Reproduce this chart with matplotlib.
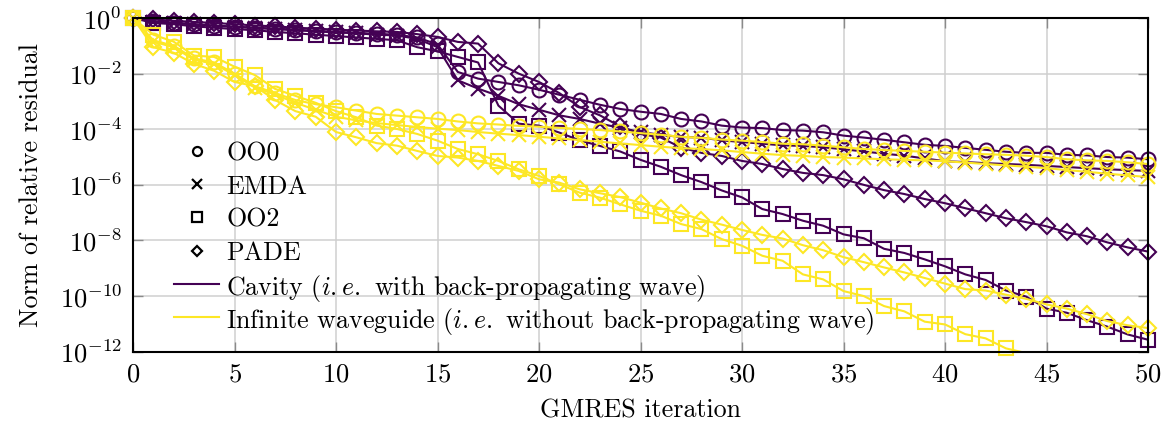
import numpy as np
import matplotlib
matplotlib.use("Agg")
import matplotlib.pyplot as plt

FS = 18.7
plt.rcParams["font.family"] = "serif"
plt.rcParams["font.serif"] = ["cmr10"]
plt.rcParams["mathtext.fontset"] = "cm"
plt.rcParams["axes.formatter.use_mathtext"] = True
plt.rcParams["font.size"] = FS

# GMRES iterations
iterations = list(range(51))

# log10 of the relative residual norm, cavity (with back-propagating wave)
cav_oo0 = [0, -0.12, -0.17, -0.22, -0.27, -0.31, -0.35, -0.38, -0.42, -0.46,
           -0.50, -0.53, -0.57, -0.60, -0.70, -0.95, -1.94, -2.18, -2.30, -2.42,
           -2.58, -2.76, -2.94, -3.12, -3.27, -3.37, -3.45, -3.63, -3.72, -3.87,
           -3.94, -3.96, -4.03, -4.05, -4.11, -4.23, -4.30, -4.38, -4.47, -4.56,
           -4.60, -4.67, -4.74, -4.81, -4.85, -4.85, -4.92, -4.94, -5.00, -5.02,
           -5.08]
cav_emda = [0, -0.13, -0.18, -0.23, -0.28, -0.32, -0.36, -0.40, -0.44, -0.48,
            -0.52, -0.55, -0.60, -0.63, -0.75, -1.05, -2.24, -2.54, -2.80, -3.10,
            -3.30, -3.50, -3.63, -3.80, -3.95, -4.10, -4.20, -4.28, -4.30, -4.40,
            -4.46, -4.52, -4.58, -4.60, -4.65, -4.72, -4.80, -4.88, -4.95, -5.05,
            -5.15, -5.18, -5.22, -5.25, -5.28, -5.32, -5.36, -5.40, -5.44, -5.47,
            -5.50]
cav_oo2 = [0, -0.18, -0.22, -0.30, -0.35, -0.40, -0.44, -0.50, -0.55, -0.60,
           -0.65, -0.70, -0.75, -0.80, -1.05, -1.20, -1.40, -1.60, -3.15, -3.80,
           -3.87, -4.12, -4.40, -4.60, -4.80, -5.10, -5.35, -5.65, -5.90, -6.20,
           -6.45, -6.87, -7.05, -7.29, -7.47, -7.78, -7.92, -8.30, -8.45, -8.68,
           -8.93, -9.22, -9.42, -9.80, -10.02, -10.45, -10.60, -10.87, -11.10,
           -11.38, -11.57]
cav_pade = [0, -0.05, -0.10, -0.14, -0.18, -0.22, -0.27, -0.30, -0.35, -0.38,
            -0.42, -0.45, -0.48, -0.50, -0.58, -0.68, -0.86, -0.92, -1.63, -2.00,
            -2.30, -2.70, -3.20, -3.50, -3.90, -4.17, -4.30, -4.66, -4.85, -4.96,
            -5.14, -5.25, -5.43, -5.57, -5.65, -5.80, -6.00, -6.19, -6.33, -6.51,
            -6.66, -6.84, -7.02, -7.20, -7.34, -7.49, -7.71, -7.85, -8.07, -8.25,
            -8.40]

# log10 of the relative residual norm, infinite waveguide
inf_oo0 = [0, -0.80, -1.00, -1.45, -1.60, -2.00, -2.45, -2.70, -2.95, -3.10,
           -3.21, -3.33, -3.45, -3.51, -3.57, -3.63, -3.72, -3.79, -3.83, -3.88,
           -3.91, -3.95, -3.99, -4.03, -4.08, -4.14, -4.20, -4.27, -4.31, -4.37,
           -4.41, -4.46, -4.52, -4.54, -4.59, -4.65, -4.71, -4.75, -4.78, -4.81,
           -4.84, -4.87, -4.90, -4.92, -4.95, -5.00, -5.08, -5.12, -5.14, -5.19,
           -5.25]
inf_emda = [0, -0.85, -1.05, -1.50, -1.65, -2.05, -2.50, -2.75, -3.05, -3.30,
            -3.55, -3.68, -3.78, -3.85, -3.92, -3.98, -4.03, -4.10, -4.16, -4.21,
            -4.27, -4.33, -4.39, -4.45, -4.51, -4.57, -4.63, -4.68, -4.71, -4.76,
            -4.82, -4.88, -4.93, -4.96, -5.00, -5.02, -5.05, -5.08, -5.10, -5.12,
            -5.15, -5.20, -5.25, -5.30, -5.35, -5.40, -5.47, -5.53, -5.60, -5.66,
            -5.72]
inf_oo2 = [0, -0.60, -0.85, -1.35, -1.40, -1.75, -2.05, -2.55, -2.80, -3.05,
           -3.35, -3.57, -3.87, -3.99, -4.17, -4.41, -4.71, -4.90, -5.14, -5.44,
           -5.68, -5.98, -6.28, -6.46, -6.70, -6.93, -7.11, -7.41, -7.59, -7.95,
           -8.19, -8.55, -8.73, -9.22, -9.40, -9.82, -10.00, -10.36, -10.55,
           -10.92, -11.02, -11.37, -11.52, -11.88, -12.05]
inf_pade = [0, -1.05, -1.25, -1.65, -1.90, -2.30, -2.45, -2.95, -3.35, -3.55,
            -4.10, -4.29, -4.50, -4.59, -4.78, -4.96, -5.02, -5.14, -5.32, -5.50,
            -5.80, -5.92, -6.16, -6.30, -6.44, -6.64, -6.85, -7.02, -7.25, -7.43,
            -7.62, -7.80, -7.93, -8.17, -8.35, -8.60, -8.78, -8.97, -9.15, -9.35,
            -9.55, -9.75, -9.80, -9.95, -10.10, -10.30, -10.45, -10.65, -10.90,
            -11.05, -11.15]

PURPLE = "#440154"
YELLOW = "#fde725"
YMIN, YMAX = 1e-12, 1e0

series = [
    (cav_oo0, PURPLE, "o"), (cav_emda, PURPLE, "x"),
    (cav_oo2, PURPLE, "s"), (cav_pade, PURPLE, "D"),
    (inf_oo0, YELLOW, "o"), (inf_emda, YELLOW, "x"),
    (inf_oo2, YELLOW, "s"), (inf_pade, YELLOW, "D"),
]
msizes = {"o": 10, "x": 10, "s": 10, "D": 8.5}

W, H = 1169, 425
AX_L, AX_R, AX_T, AX_B = 133, 1148, 18, 351.7

fig = plt.figure(figsize=(W / 100, H / 100), dpi=100)
ax = fig.add_axes([AX_L / W, 1 - AX_B / H, (AX_R - AX_L) / W, (AX_B - AX_T) / H])

for z, (logs, color, mk) in enumerate(series):
    y = 10.0 ** np.asarray(logs, dtype=float)
    x = np.asarray(iterations[:len(logs)], dtype=float)
    ax.plot(x, y, color=color, lw=1.5, zorder=3 + z * 0.1)
    # markers are only drawn for points that lie within the axis range
    inside = (y >= YMIN * 0.999) & (y <= YMAX * 1.001)
    ax.plot(x[inside], y[inside], linestyle="none", marker=mk, ms=msizes[mk],
            mfc="none", mec=color, mew=1.5, clip_on=False, zorder=3.05 + z * 0.1)

ax.set_yscale("log")
ax.set_xlim(0, 50)
ax.set_ylim(YMIN, YMAX)
ax.set_xticks(range(0, 51, 5))
ax.set_yticks([10.0 ** k for k in range(-12, 1, 2)])
ax.minorticks_off()
ax.grid(True, color="#cfcfcf", lw=1.1, zorder=0)
ax.tick_params(direction="in", length=7, width=1.0, color="#8a8a8a",
               top=True, right=True, labelsize=FS + 0.5, pad=8)
for s in ax.spines.values():
    s.set_linewidth(1.5)
    s.set_zorder(10)

ax.set_xlabel("GMRES iteration", fontsize=FS, labelpad=9)
ax.set_ylabel("Norm of relative residual", fontsize=FS, labelpad=12)

# legend, laid out row by row in axes coordinates
def ax_x(px):
    return (px - AX_L) / (AX_R - AX_L)

def ax_y(py):
    return (AX_B - py) / (AX_B - AX_T)

legend_rows = [
    ("marker", "o", "black", "OO0"),
    ("marker", "x", "black", "EMDA"),
    ("marker", "s", "black", "OO2"),
    ("marker", "D", "black", "PADE"),
    ("line", None, PURPLE, r"Cavity ($i.e.$ with back-propagating wave)"),
    ("line", None, YELLOW, r"Infinite waveguide ($i.e.$ without back-propagating wave)"),
]
row_y = [151, 184.2, 217.4, 250.6, 283.8, 317]
leg_ms = {"o": 6.5, "x": 6.5, "s": 6.5, "D": 5.5}
for (kind, mk, color, text), py in zip(legend_rows, row_y):
    yy = ax_y(py)
    if kind == "marker":
        ax.plot([ax_x(196.5)], [yy], transform=ax.transAxes, ls="none", marker=mk,
                ms=leg_ms[mk], mfc="none", mec=color, mew=1.6, clip_on=False, zorder=6)
    else:
        ax.plot([ax_x(174), ax_x(219)], [yy, yy], transform=ax.transAxes,
                color=color, lw=1.5, clip_on=False, zorder=6)
    ax.text(ax_x(226), yy, text, transform=ax.transAxes, ha="left", va="center_baseline",
            fontsize=FS, zorder=6)

fig.savefig("out.png", dpi=100)
